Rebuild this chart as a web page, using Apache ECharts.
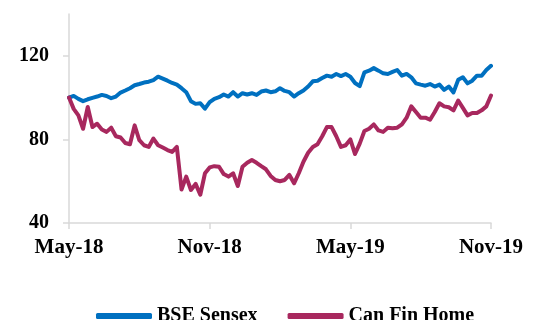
<!DOCTYPE html>
<html>
<head>
<meta charset="utf-8">
<script src="https://cdn.jsdelivr.net/npm/echarts@6/dist/echarts.min.js"></script>
<style>
  html, body { margin: 0; padding: 0; background: #fff; }
  #chart { width: 540px; height: 320px; }
</style>
</head>
<body>
<div id="chart"></div>
<script>
// Rebased prices (100 = May-18), roughly every 6 days
const bseSensex = [
  100, 100.8, 99.4, 98.3, 99.2, 99.9, 100.5, 101.3, 100.8, 99.7,
  100.5, 102.4, 103.4, 104.5, 105.9, 106.5, 107.2, 107.6, 108.4, 110,
  109.1, 108.1, 107, 106.2, 104.5, 102.6, 98.3, 97, 97.3, 94.7,
  97.8, 99.4, 100.2, 101.5, 100.5, 102.6, 100.5, 102.1, 101.5, 102.1,
  101.3, 102.9, 103.4, 102.6, 103, 104.5, 103.2, 102.6, 100.5, 102.1,
  103.4, 105.3, 107.8, 108.1, 109.4, 110.5, 110, 111.3, 110.3, 111.3,
  110, 107, 105.5, 112.1, 112.9, 114.1, 112.9, 111.6, 111.3, 112.3,
  113.2, 110.5, 111.3, 109.7, 106.8, 106.2, 105.7, 106.5, 105.3, 106.2,
  103.7, 105.3, 102.5, 108.5, 109.7, 106.8, 108.1, 110.5, 110.5, 113.2,
  115.2
];
const canFinHome = [
  100, 94.6, 91.5, 85.1, 95.5, 85.9, 87.5, 84.7, 83.6, 85.6,
  81.5, 80.9, 78.3, 77.7, 86.7, 79.6, 77.2, 76.4, 80.4, 77.2,
  76.1, 74.9, 74, 76.4, 56, 62.2, 55.8, 58.7, 53.5, 63.8,
  66.6, 67.2, 66.9, 63.4, 62.2, 63.8, 57.7, 66.9, 68.8, 70.1,
  68.8, 67.2, 65.7, 62.5, 60.6, 60, 60.6, 63, 59, 63.8,
  69.3, 73.6, 76.4, 77.7, 81.5, 85.9, 85.9, 81.5, 76.4, 77.2,
  80, 73, 78, 84, 85.1, 87.2, 84.3, 83.6, 85.6, 85.3,
  85.6, 87.2, 90.4, 95.8, 93.1, 90.4, 90.4, 89.4, 93.1, 97.3,
  95.8, 95.4, 93.9, 98.6, 95.1, 91.5, 92.6, 92.6, 93.9, 95.8,
  101
];
const categories = bseSensex.map((v, i) => String(i));
const tickIndex = [0, 30, 60, 90];
const tickLabels = ['May-18', 'Nov-18', 'May-19', 'Nov-19'];
const yTicks = [40, 80, 120];

const chart = echarts.init(document.getElementById('chart'));
const font = 'Liberation Serif';
const isTick = i => tickIndex.indexOf(i) >= 0;

chart.setOption({
  animation: false,
  grid: { left: 69, right: 49, top: 14, bottom: 97 },
  legend: {
    left: 91,
    top: 301,
    itemWidth: 56,
    itemHeight: 6,
    itemGap: 30,
    icon: 'roundRect',
    textStyle: { fontFamily: font, fontWeight: 'bold', fontSize: 20, color: '#000' },
    data: ['BSE Sensex', 'Can Fin Home']
  },
  xAxis: {
    type: 'category',
    boundaryGap: false,
    data: categories,
    axisLine: { lineStyle: { color: '#d9d9d9', width: 1.5 } },
    axisTick: { interval: (i) => isTick(i), length: 6, lineStyle: { color: '#d9d9d9', width: 1.5 } },
    axisLabel: {
      interval: (i) => isTick(i),
      formatter: (v, i) => tickLabels[tickIndex.indexOf(i)] || '',
      margin: 14,
      fontFamily: font, fontWeight: 'bold', fontSize: 21, color: '#000'
    },
    splitLine: { show: false }
  },
  yAxis: {
    type: 'value',
    min: 40,
    max: 140,
    interval: 40,
    axisLine: { show: true, lineStyle: { color: '#d9d9d9', width: 1.5 } },
    axisTick: { show: true, length: 6, customValues: yTicks, lineStyle: { color: '#d9d9d9', width: 1.5 } },
    axisLabel: {
      customValues: yTicks,
      margin: 20,
      fontFamily: font, fontWeight: 'bold', fontSize: 20, color: '#000'
    },
    splitLine: { show: false }
  },
  series: [
    {
      name: 'BSE Sensex',
      type: 'line',
      data: bseSensex,
      showSymbol: false,
      color: '#0070c0',
      lineStyle: { width: 4, cap: 'round', join: 'round' }
    },
    {
      name: 'Can Fin Home',
      type: 'line',
      data: canFinHome,
      showSymbol: false,
      color: '#a8285e',
      lineStyle: { width: 4, cap: 'round', join: 'round' }
    }
  ]
});
</script>
</body>
</html>
